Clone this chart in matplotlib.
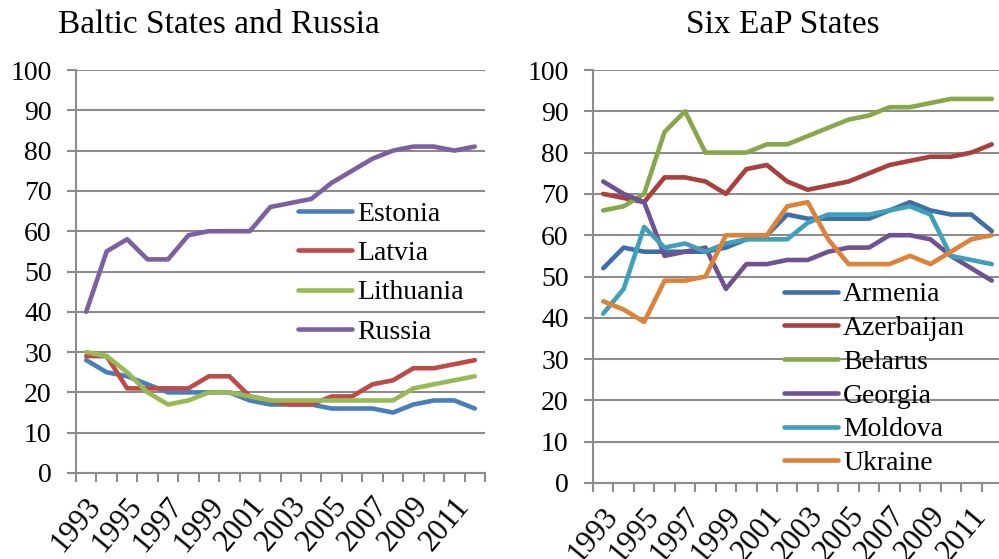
import matplotlib.pyplot as plt
import matplotlib.transforms as mtransforms
import numpy as np

years = list(range(1993, 2013))
year_labels = [str(y) if y % 2 == 1 else "" for y in years]

# Baltic states and Russia
estonia = [28, 25, 24, 22, 20, 20, 20, 20, 18, 17, 17, 17, 16, 16, 16, 15, 17, 18, 18, 16]
latvia = [29, 29, 21, 21, 21, 21, 24, 24, 19, 18, 17, 17, 19, 19, 22, 23, 26, 26, 27, 28]
lithuania = [30, 29, 25, 20, 17, 18, 20, 20, 19, 18, 18, 18, 18, 18, 18, 18, 21, 22, 23, 24]
russia = [40, 55, 58, 53, 53, 59, 60, 60, 60, 66, 67, 68, 72, 75, 78, 80, 81, 81, 80, 81]

# six EaP states
armenia = [52, 57, 56, 56, 56, 56, 57, 59, 60, 65, 64, 64, 64, 64, 66, 68, 66, 65, 65, 61]
azerbaijan = [70, 69, 68, 74, 74, 73, 70, 76, 77, 73, 71, 72, 73, 75, 77, 78, 79, 79, 80, 82]
belarus = [66, 67, 70, 85, 90, 80, 80, 80, 82, 82, 84, 86, 88, 89, 91, 91, 92, 93, 93, 93]
georgia = [73, 70, 68, 55, 56, 57, 47, 53, 53, 54, 54, 56, 57, 57, 60, 60, 59, 55, 52, 49]
moldova = [41, 47, 62, 57, 58, 56, 58, 59, 59, 59, 63, 65, 65, 65, 66, 67, 65, 55, 54, 53]
ukraine = [44, 42, 39, 49, 49, 50, 60, 60, 60, 67, 68, 59, 53, 53, 53, 55, 53, 56, 59, 60]

left_series = [("Estonia", estonia, "#4A7EBB"), ("Latvia", latvia, "#BE4B48"),
               ("Lithuania", lithuania, "#98B954"), ("Russia", russia, "#7D60A0")]
right_series = [("Armenia", armenia, "#3F6FA8"), ("Azerbaijan", azerbaijan, "#A9403D"),
                ("Belarus", belarus, "#86A84A"), ("Georgia", georgia, "#6F5291"),
                ("Moldova", moldova, "#3FA0B8"), ("Ukraine", ukraine, "#DE823A")]

plt.rcParams['font.family'] = ['Liberation Serif', 'DejaVu Serif']
plt.rcParams['font.size'] = 20
grey = "#8C8C8C"

fig = plt.figure(figsize=(9.99, 5.59), dpi=100)
ax1 = fig.add_axes([76/999, 1-473/559, (485-76)/999, (473-70)/559])
ax2 = fig.add_axes([593/999, 1-483/559, (1002-593)/999, (483-70)/559])


def setup(ax, series, legend_pos, spacing):
    x = np.arange(len(years))
    for name, vals, col in series:
        ax.plot(x, vals, color=col, lw=3.3, label=name, solid_capstyle='round')
    ax.set_xlim(-0.5, len(years) - 0.5)
    ax.set_ylim(0, 100)
    ax.set_yticks(range(0, 101, 10))
    ax.yaxis.grid(True, color=grey, lw=1.5)
    ax.set_axisbelow(True)
    for s in ['top', 'right']:
        ax.spines[s].set_visible(False)
    for s in ['left', 'bottom']:
        ax.spines[s].set_color(grey)
        ax.spines[s].set_linewidth(1.5)
    ax.tick_params(axis='y', length=6.5, width=1.5, color=grey, pad=11)
    # ticks between categories, year labels placed at centres
    ax.set_xticks(np.arange(len(years) + 1) - 0.5)
    ax.set_xticklabels([])
    ax.tick_params(axis='x', which='major', length=6.5, width=1.5, color=grey)
    trans = ax.get_xaxis_transform() + mtransforms.ScaledTranslation(10/100, -28/100, fig.dpi_scale_trans)
    for xi, lab in zip(x, year_labels):
        if lab:
            ax.text(xi, 0, lab, transform=trans, rotation=50, rotation_mode='anchor',
                    ha='right', va='center', fontsize=22, clip_on=False)
    ax.legend(loc='center left', bbox_to_anchor=legend_pos, bbox_transform=fig.transFigure,
              frameon=False, borderpad=0, borderaxespad=0, handlelength=1.95,
              handletextpad=0.18, labelspacing=spacing, fontsize=20)


setup(ax1, left_series, (298/999, 1-273/559), 0.5)
setup(ax2, right_series, (784/999, 1-379/559), 0.3)

fig.text(219/999, 1-25/559, "Baltic States and Russia", ha='center', va='center', fontsize=24)
fig.text(783/999, 1-25/559, "Six EaP States", ha='center', va='center', fontsize=24)

fig.savefig("out.png", dpi=100)
